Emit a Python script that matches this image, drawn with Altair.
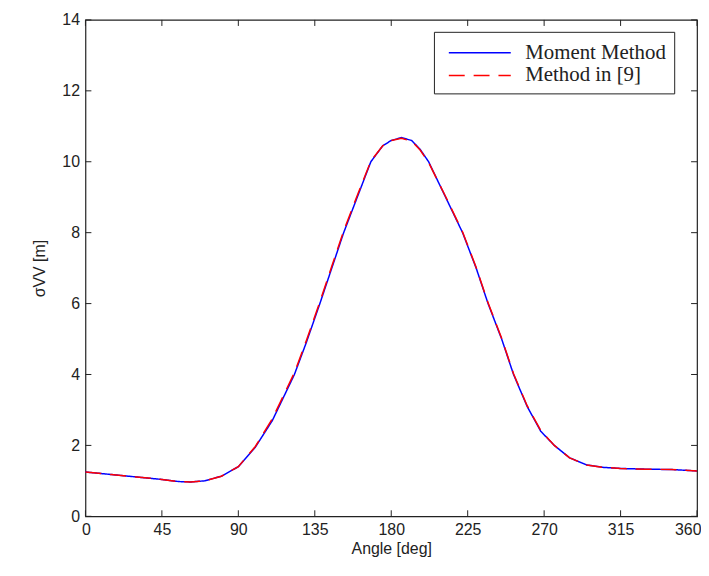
import altair as alt
import pandas as pd

angle_mm = [0, 15, 30, 45, 55, 62, 70, 80, 90, 100, 110, 117, 123, 130, 138, 145, 152, 160, 168, 175, 180, 186, 192, 197, 202, 212, 222, 230, 237, 245, 252, 260, 268, 276, 285, 295, 305, 315, 330, 345, 360]
sigma_mm = [1.25, 1.18, 1.11, 1.04, 0.98, 0.97, 1.0, 1.13, 1.4, 1.95, 2.7, 3.4, 4.0, 4.9, 6.0, 7.0, 8.0, 9.0, 10.0, 10.45, 10.6, 10.68, 10.6, 10.35, 10.0, 9.0, 8.0, 7.0, 6.0, 5.0, 4.0, 3.1, 2.4, 2.0, 1.65, 1.45, 1.38, 1.35, 1.33, 1.32, 1.28]
angle_ref = angle_mm
sigma_ref = [1.25, 1.18, 1.11, 1.04, 0.98, 0.97, 1.0, 1.13, 1.4, 1.97, 2.75, 3.45, 4.05, 4.95, 6.05, 7.05, 8.05, 9.05, 10.02, 10.45, 10.6, 10.66, 10.58, 10.33, 9.98, 9.02, 8.02, 7.02, 6.02, 5.02, 4.02, 3.12, 2.42, 2.0, 1.65, 1.45, 1.38, 1.35, 1.33, 1.32, 1.28]

series = ["Moment Method", "Method in [9]"]
x_ticks = [0, 45, 90, 135, 180, 225, 270, 315, 360]
y_ticks = [0, 2, 4, 6, 8, 10, 12, 14]

df = pd.concat([
    pd.DataFrame({"angle": angle_mm, "sigma": sigma_mm, "method": series[0]}),
    pd.DataFrame({"angle": angle_ref, "sigma": sigma_ref, "method": series[1]}),
])

xs = alt.Scale(domain=[0, 360], nice=False, zero=False)
ys = alt.Scale(domain=[0, 14], nice=False)

lines = alt.Chart(df).mark_line(strokeWidth=1.5).encode(
    x=alt.X("angle:Q", scale=xs, title="Angle [deg]",
            axis=alt.Axis(values=x_ticks, tickSize=0, labelPadding=5, domain=False, grid=False,
                          labelFlush=True, labelFlushOffset=4, labelOverlap=False,
                          labelFont="Liberation Sans", labelFontSize=16, labelColor="#222",
                          titleFont="Liberation Sans", titleFontSize=16, titleFontWeight="normal",
                          titleColor="#222", titlePadding=3)),
    y=alt.Y("sigma:Q", scale=ys, title="σVV [m]",
            axis=alt.Axis(values=y_ticks, tickSize=0, labelPadding=6, domain=False, grid=False,
                          labelFlush=False, labelOverlap=False,
                          labelFont="Liberation Sans", labelFontSize=16, labelColor="#222",
                          titleFont="Liberation Sans", titleFontSize=16, titleFontWeight="normal",
                          titleColor="#222", titlePadding=14)),
    color=alt.Color("method:N", scale=alt.Scale(domain=series, range=["#0000ff", "#ff0000"]),
                    legend=alt.Legend(title=None, orient="none", legendX=351, legendY=12,
                                      strokeColor="#222", fillColor="white", padding=8,
                                      labelFont="Liberation Serif", labelFontSize=21, labelColor="#222",
                                      symbolType="M-0.5,0H4.7", symbolSize=576, symbolStrokeWidth=1.5,
                                      rowPadding=-1, labelOffset=58)),
    strokeDash=alt.StrokeDash("method:N", scale=alt.Scale(domain=series, range=[[1, 0], [16, 9]]),
                              legend=None),
    order=alt.Order("angle:Q"),
)

tx = pd.DataFrame({"t": x_ticks})
ty = pd.DataFrame({"t": y_ticks})
tick_style = dict(color="#222", strokeWidth=1)
xb = alt.Chart(tx).mark_rule(**tick_style).encode(x=alt.X("t:Q", scale=xs), y=alt.datum(0), y2=alt.datum(0.17))
xt = alt.Chart(tx).mark_rule(**tick_style).encode(x=alt.X("t:Q", scale=xs), y=alt.datum(14), y2=alt.datum(13.83))
yl = alt.Chart(ty).mark_rule(**tick_style).encode(y=alt.Y("t:Q", scale=ys), x=alt.datum(0), x2=alt.datum(3.5))
yr = alt.Chart(ty).mark_rule(**tick_style).encode(y=alt.Y("t:Q", scale=ys), x=alt.datum(360), x2=alt.datum(356.5))

chart = alt.layer(xb, xt, yl, yr, lines).properties(
    width=616, height=500, background="white",
    padding={"left": 24, "top": 2, "right": 0, "bottom": 4},
).configure_view(stroke="#222", strokeWidth=1.2)

chart.save("out.html", embed_options={"renderer": "svg", "actions": False})
